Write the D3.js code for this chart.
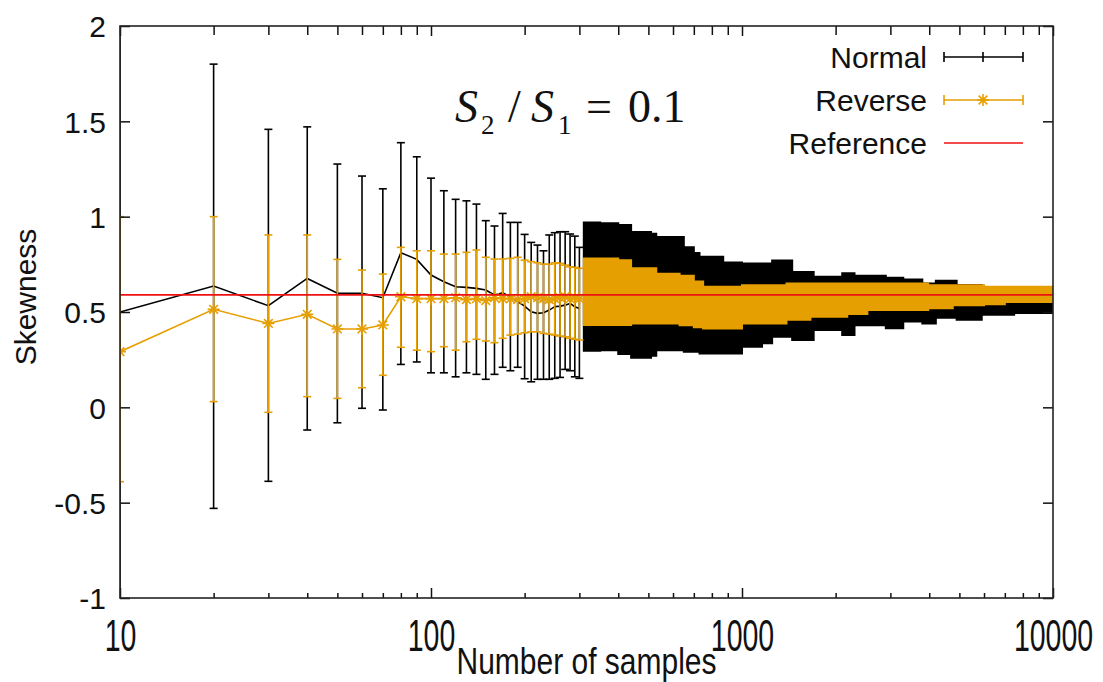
<!DOCTYPE html>
<html>
<head>
<meta charset="utf-8">
<script src="https://cdn.jsdelivr.net/npm/d3@7"></script>
<style>
  body { margin: 0; background: #fff; }
  svg text { font-family: "Liberation Sans", Arial, sans-serif; fill: #111; }
  svg text.note { font-family: "Liberation Serif", "Times New Roman", serif; }
</style>
</head>
<body>
<div id="chart"></div>
<script>
// Sparse part: one point every 10 samples up to 300
const sampleCounts = [10, 20, 30, 40, 50, 60, 70, 80, 90, 100, 110, 120, 130, 140, 150,
  160, 170, 180, 190, 200, 210, 220, 230, 240, 250, 260, 270, 280, 290, 300];

const normalMean = [0.50, 0.636, 0.533, 0.676, 0.598, 0.598, 0.575, 0.811, 0.776, 0.694,
  0.659, 0.632, 0.629, 0.624, 0.615, 0.589, 0.601, 0.58, 0.554, 0.531,
  0.501, 0.493, 0.496, 0.51, 0.528, 0.531, 0.536, 0.545, 0.528, 0.519];
const normalLow = [-1.4, -0.53, -0.388, -0.119, -0.081, -0.005, -0.014, 0.225, 0.238, 0.181,
  0.181, 0.16, 0.181, 0.173, 0.147, 0.173, 0.21, 0.192, 0.21, 0.15,
  0.134, 0.147, 0.147, 0.147, 0.152, 0.157, 0.199, 0.192, 0.16, 0.152];
const normalHigh = [2.4, 1.80, 1.458, 1.471, 1.276, 1.213, 1.146, 1.388, 1.314, 1.202,
  1.136, 1.091, 1.083, 1.066, 0.979, 0.951, 1.017, 0.97, 0.97, 0.907,
  0.865, 0.851, 0.821, 0.904, 0.916, 0.921, 0.921, 0.909, 0.898, 0.839];

const reverseMean = [0.292, 0.514, 0.44, 0.488, 0.411, 0.411, 0.432, 0.58, 0.57, 0.57,
  0.57, 0.575, 0.565, 0.57, 0.56, 0.575, 0.57, 0.57, 0.565, 0.57,
  0.58, 0.575, 0.57, 0.565, 0.57, 0.575, 0.58, 0.57, 0.575, 0.57];
const reverseLow = [-0.39, 0.03, -0.026, 0.056, 0.047, 0.103, 0.168, 0.315, 0.300, 0.292,
  0.318, 0.300, 0.344, 0.357, 0.348, 0.339, 0.362, 0.379, 0.384, 0.391,
  0.396, 0.396, 0.388, 0.384, 0.379, 0.374, 0.37, 0.362, 0.357, 0.353];
const reverseHigh = [1.0, 1.0, 0.904, 0.904, 0.776, 0.72, 0.699, 0.839, 0.821, 0.821,
  0.804, 0.804, 0.813, 0.825, 0.787, 0.778, 0.778, 0.781, 0.787, 0.772,
  0.764, 0.758, 0.751, 0.751, 0.758, 0.755, 0.746, 0.737, 0.734, 0.729];

// Dense part (> 300 samples): the bars merge into a band, read as envelope steps
const denseNormalX = [310, 350, 400, 440, 510, 530, 650, 700, 730, 870, 1000, 1160, 1250,
  1450, 1700, 2100, 2300, 2900, 3300, 3800, 4200, 4900, 5900, 7500, 10000];
const denseNormalLow = [0.297, 0.30, 0.28, 0.26, 0.27, 0.30, 0.292, 0.292, 0.283, 0.283, 0.318,
  0.336, 0.37, 0.353, 0.405, 0.38, 0.43, 0.415, 0.45, 0.44, 0.47, 0.46, 0.485, 0.495, 0.5];
const denseNormalHigh = [0.970, 0.965, 0.956, 0.92, 0.91, 0.893, 0.84, 0.81, 0.79, 0.76, 0.755,
  0.755, 0.77, 0.71, 0.685, 0.703, 0.69, 0.68, 0.67, 0.65, 0.664, 0.641, 0.63, 0.62, 0.62];

const denseReverseX = [310, 400, 440, 530, 630, 700, 750, 1000, 1390, 1660, 2180, 2530,
  3970, 4760, 6000, 7000, 10000];
const denseReverseLow = [0.432, 0.432, 0.44, 0.44, 0.43, 0.42, 0.414, 0.44, 0.46, 0.475,
  0.49, 0.51, 0.52, 0.536, 0.54, 0.553, 0.56];
const denseReverseHigh = [0.781, 0.772, 0.73, 0.70, 0.69, 0.66, 0.633, 0.64, 0.65, 0.65,
  0.65, 0.65, 0.64, 0.64, 0.633, 0.633, 0.633];

const referenceValue = 0.59;

const xMajorTicks = [10, 100, 1000, 10000];
const xMinorTicks = [20, 30, 40, 50, 60, 70, 80, 90, 200, 300, 400, 500, 600, 700, 800, 900,
  2000, 3000, 4000, 5000, 6000, 7000, 8000, 9000];
const yTicks = [-1, -0.5, 0, 0.5, 1, 1.5, 2];
const legendLabels = ['Normal', 'Reverse', 'Reference'];

class SkewnessChart {

  constructor(_config) {
    this.config = {
      parentElement: _config.parentElement,
      containerWidth: 1103,
      containerHeight: 682,
      margin: {top: 26, right: 50, bottom: 84, left: 120},
      capWidth: 8,
      colors: {normal: '#000000', reverse: '#e69f00', reference: '#ee1111'}
    };
    this.initVis();
  }

  initVis() {
    let vis = this;

    vis.width = vis.config.containerWidth - vis.config.margin.left - vis.config.margin.right;
    vis.height = vis.config.containerHeight - vis.config.margin.top - vis.config.margin.bottom;

    vis.svg = d3.select(vis.config.parentElement).append('svg')
        .attr('width', vis.config.containerWidth)
        .attr('height', vis.config.containerHeight);

    vis.chart = vis.svg.append('g')
        .attr('transform', `translate(${vis.config.margin.left},${vis.config.margin.top})`);

    vis.x = d3.scaleLog().domain([10, 10000]).range([0, vis.width]);
    vis.y = d3.scaleLinear().domain([-1, 2]).range([vis.height, 0]);

    vis.svg.append('defs').append('clipPath').attr('id', 'plot-clip')
      .append('rect')
        .attr('width', vis.width)
        .attr('height', vis.height);

    vis.plot = vis.chart.append('g').attr('clip-path', 'url(#plot-clip)');

    vis.renderVis();
  }

  errorBars(xs, lo, hi, color, strokeWidth) {
    let vis = this;
    const half = vis.config.capWidth / 2;
    const data = xs.map((d, i) => ({x: d, lo: lo[i], hi: hi[i]}));
    const g = vis.plot.append('g')
        .attr('stroke', color)
        .attr('stroke-width', strokeWidth);

    g.selectAll('.bar').data(data).join('line')
        .attr('class', 'bar')
        .attr('x1', d => vis.x(d.x)).attr('x2', d => vis.x(d.x))
        .attr('y1', d => vis.y(d.lo)).attr('y2', d => vis.y(d.hi));

    ['lo', 'hi'].forEach(k => {
      g.selectAll('.cap-' + k).data(data).join('line')
          .attr('class', 'cap-' + k)
          .attr('x1', d => vis.x(d.x) - half).attr('x2', d => vis.x(d.x) + half)
          .attr('y1', d => vis.y(d[k])).attr('y2', d => vis.y(d[k]));
    });
  }

  band(xs, lo, hi, color) {
    let vis = this;
    const data = xs.map((d, i) => ({x: d, lo: lo[i], hi: hi[i]}));
    const area = d3.area()
        .x(d => vis.x(d.x))
        .y0(d => vis.y(d.lo))
        .y1(d => vis.y(d.hi))
        .curve(d3.curveStepAfter);
    vis.plot.append('path')
        .datum(data)
        .attr('d', area)
        .attr('fill', color)
        .attr('stroke', color)
        .attr('stroke-width', 2);
  }

  starPath(r) {
    const d = r * 0.72;
    return `M${-r},0H${r}M0,${-r}V${r}M${-d},${-d}L${d},${d}M${-d},${d}L${d},${-d}`;
  }

  renderVis() {
    let vis = this;
    const c = vis.config.colors;

    const line = d3.line().x(d => vis.x(d[0])).y(d => vis.y(d[1]));

    // Normal
    vis.errorBars(sampleCounts, normalLow, normalHigh, c.normal, 1.6);
    vis.plot.append('path')
        .datum(sampleCounts.map((d, i) => [d, normalMean[i]]))
        .attr('d', line)
        .attr('fill', 'none')
        .attr('stroke', c.normal)
        .attr('stroke-width', 1.6);
    vis.band(denseNormalX, denseNormalLow, denseNormalHigh, c.normal);

    // Reverse
    vis.band(denseReverseX, denseReverseLow, denseReverseHigh, c.reverse);
    vis.errorBars(sampleCounts, reverseLow, reverseHigh, c.reverse, 1.6);
    vis.plot.append('path')
        .datum(sampleCounts.map((d, i) => [d, reverseMean[i]]))
        .attr('d', line)
        .attr('fill', 'none')
        .attr('stroke', c.reverse)
        .attr('stroke-width', 1.6);
    vis.plot.selectAll('.star')
        .data(sampleCounts.map((d, i) => [d, reverseMean[i]]))
      .join('path')
        .attr('class', 'star')
        .attr('transform', d => `translate(${vis.x(d[0])},${vis.y(d[1])})`)
        .attr('d', vis.starPath(6))
        .attr('stroke', c.reverse)
        .attr('stroke-width', 1.6);

    // Reference
    vis.plot.append('line')
        .attr('x1', 0).attr('x2', vis.width)
        .attr('y1', vis.y(referenceValue)).attr('y2', vis.y(referenceValue))
        .attr('stroke', c.reference)
        .attr('stroke-width', 1.6);

    // Axes (gnuplot style: ticks pointing inward, mirrored)
    const yAxis = d3.axisLeft(vis.y).tickValues(yTicks).tickSizeInner(-10).tickSizeOuter(0)
        .tickPadding(14).tickFormat(d => String(d));
    const yAxisG = vis.chart.append('g').call(yAxis);
    yAxisG.selectAll('text').attr('font-size', 30).attr('dy', '0.36em');

    vis.chart.append('g').attr('transform', `translate(${vis.width},0)`)
        .call(d3.axisRight(vis.y).tickValues(yTicks).tickSizeInner(-10).tickSizeOuter(0).tickFormat(''));

    const xAxisG = vis.chart.append('g').attr('transform', `translate(0,${vis.height})`)
        .call(d3.axisBottom(vis.x).tickValues(xMajorTicks).tickSizeInner(-10).tickSizeOuter(0)
          .tickFormat(d => String(d)));
    xAxisG.selectAll('text')
        .attr('font-size', 30)
        .attr('y', 0).attr('dy', null)
        .attr('transform', 'translate(0,53) scale(0.95,1.45)');

    vis.chart.append('g').attr('transform', `translate(0,${vis.height})`)
        .call(d3.axisBottom(vis.x).tickValues(xMinorTicks).tickSizeInner(-5).tickSizeOuter(0).tickFormat(''));
    vis.chart.append('g')
        .call(d3.axisTop(vis.x).tickValues(xMajorTicks).tickSizeInner(-10).tickSizeOuter(0).tickFormat(''));
    vis.chart.append('g')
        .call(d3.axisTop(vis.x).tickValues(xMinorTicks).tickSizeInner(-9).tickSizeOuter(0).tickFormat(''));

    vis.chart.selectAll('.domain').remove();
    vis.chart.selectAll('.tick line').attr('stroke', '#111').attr('stroke-width', 1.5);

    vis.chart.append('rect')
        .attr('width', vis.width)
        .attr('height', vis.height)
        .attr('fill', 'none')
        .attr('stroke', '#222')
        .attr('stroke-width', 1.6);

    // Axis titles
    vis.svg.append('text')
        .attr('transform', `translate(${vis.config.margin.left + vis.width / 2},674) scale(1,1.2)`)
        .attr('text-anchor', 'middle')
        .attr('font-size', 30)
        .text('Number of samples');

    vis.svg.append('text')
        .attr('transform', 'translate(36,297) rotate(-90)')
        .attr('text-anchor', 'middle')
        .attr('font-size', 30)
        .text('Skewness');

    // Legend
    const legendY = [57, 100, 143];
    const legend = vis.svg.append('g');
    legend.selectAll('.legend-label').data(legendLabels).join('text')
        .attr('class', 'legend-label')
        .attr('x', 927)
        .attr('y', (d, i) => legendY[i] + 10.5)
        .attr('text-anchor', 'end')
        .attr('font-size', 30)
        .text(d => d);

    const sx0 = 944, sx1 = 1023, smid = 983;
    const legendColors = [c.normal, c.reverse, c.reference];
    legendLabels.forEach((d, i) => {
      const g = legend.append('g').attr('stroke', legendColors[i]).attr('stroke-width', 1.6);
      g.append('line').attr('x1', sx0).attr('x2', sx1).attr('y1', legendY[i]).attr('y2', legendY[i]);
      if (i < 2) {
        [sx0, sx1].forEach(px => g.append('line')
            .attr('x1', px).attr('x2', px).attr('y1', legendY[i] - 5).attr('y2', legendY[i] + 5));
      }
      if (i === 0) {
        g.append('line').attr('x1', smid).attr('x2', smid)
            .attr('y1', legendY[i] - 5).attr('y2', legendY[i] + 5);
      }
      if (i === 1) {
        g.append('path').attr('transform', `translate(${smid},${legendY[i]})`)
            .attr('d', vis.starPath(6)).attr('fill', 'none');
      }
    });

    // Annotation S2 / S1 = 0.1
    const note = vis.svg.append('text')
        .attr('class', 'note')
        .attr('font-size', 46)
        .attr('y', 122);
    note.append('tspan').attr('x', 455).attr('font-style', 'italic').text('S');
    note.append('tspan').attr('x', 481).attr('dy', 12).attr('font-size', 27).text('2');
    note.append('tspan').attr('x', 508).attr('dy', -12).text('/');
    note.append('tspan').attr('x', 531).attr('font-style', 'italic').text('S');
    note.append('tspan').attr('x', 558).attr('dy', 12).attr('font-size', 27).text('1');
    note.append('tspan').attr('x', 586).attr('dy', -12).text('=');
    note.append('tspan').attr('x', 628).text('0.1');
  }
}

const chart = new SkewnessChart({parentElement: '#chart'});
</script>
</body>
</html>
